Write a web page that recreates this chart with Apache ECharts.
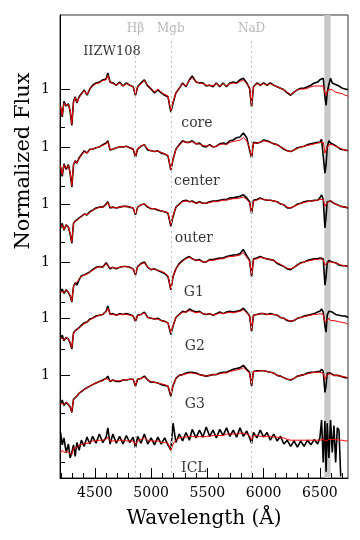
<!DOCTYPE html>
<html>
<head>
<meta charset="utf-8">
<title>IIZW108</title>
<script src="https://cdn.jsdelivr.net/npm/echarts@6/dist/echarts.min.js"></script>
<style>
  html,body{margin:0;padding:0;background:#fff;}
  #main{width:360px;height:540px;}
</style>
</head>
<body>
<div id="main"></div>
<script>
  // 波长 (Å)
  var wave=[4195,4210,4225,4245,4265,4280,4295,4310,4325,4340,
    4360,4380,4405,4430,4455,4480,4510,4540,4570,4600,
    4615,4635,4660,4690,4720,4750,4780,4810,4840,4861,
    4880,4910,4940,4970,5000,5030,5060,5090,5120,5150,
    5175,5195,5220,5250,5280,5310,5340,5365,5400,5430,
    5460,5490,5520,5550,5580,5610,5640,5670,5700,5730,
    5760,5790,5820,5850,5875,5893,5910,5940,5970,6000,
    6030,6060,6090,6120,6150,6180,6210,6240,6270,6300,
    6330,6360,6390,6420,6450,6480,6500,6515,6530,6545,
    6555,6565,6580,6595,6610,6625,6640,6655,6670,6685,
    6700,6725,6750];

  // 观测谱 (黑) 与模型谱 (红), 归一化流量
  var coreObs=[0.77,0.64,0.84,0.78,0.81,0.71,0.53,0.84,0.90,0.82,
    0.90,0.94,0.99,0.92,1.00,1.05,1.08,1.09,1.12,1.13,
    1.21,1.09,1.08,1.05,1.09,1.04,1.08,1.05,1.03,0.92,
    1.03,1.08,1.12,1.04,1.00,0.95,0.99,0.95,0.92,0.90,
    0.70,0.82,0.95,1.01,1.08,1.03,1.12,1.17,1.09,1.08,
    1.08,1.04,1.05,1.03,1.08,1.03,1.08,1.03,1.08,1.09,
    1.08,1.12,1.14,1.08,1.01,0.77,1.03,1.08,1.05,1.08,
    1.05,1.08,1.05,1.03,1.01,0.99,0.95,0.92,0.96,0.99,
    1.01,1.01,1.03,1.05,1.08,1.09,1.12,1.10,1.14,0.90,
    0.79,0.95,1.06,1.14,1.08,1.08,1.06,1.05,1.04,1.03,
    1.01,1.00,0.99];
  var coreMod=[0.78,0.66,0.82,0.79,0.80,0.72,0.55,0.83,0.89,0.83,
    0.89,0.93,0.98,0.93,1.00,1.04,1.07,1.08,1.11,1.12,
    1.18,1.09,1.07,1.05,1.08,1.04,1.07,1.05,1.03,0.93,
    1.03,1.07,1.11,1.05,1.01,0.96,1.00,0.96,0.93,0.91,
    0.72,0.83,0.95,1.01,1.07,1.04,1.11,1.15,1.09,1.08,
    1.07,1.05,1.05,1.04,1.07,1.04,1.07,1.04,1.07,1.08,
    1.07,1.10,1.12,1.07,1.02,0.79,1.03,1.07,1.05,1.07,
    1.05,1.07,1.05,1.03,1.01,0.99,0.96,0.93,0.96,0.99,
    1.00,1.00,1.01,1.03,1.04,1.04,1.04,1.04,1.04,0.95,
    0.92,0.97,1.00,1.00,0.99,0.97,0.96,0.96,0.95,0.94,
    0.94,0.92,0.91];
  var centerObs=[0.74,0.62,0.78,0.71,0.77,0.66,0.48,0.77,0.82,0.79,
    0.86,0.90,0.95,0.92,0.97,0.97,0.99,1.00,1.03,1.05,
    1.08,0.96,0.97,0.99,1.00,1.00,1.01,0.99,0.97,0.87,
    0.97,1.01,1.03,0.96,0.95,0.94,0.95,0.92,0.91,0.88,
    0.70,0.84,0.97,1.03,1.08,1.06,1.06,1.08,1.04,1.05,
    1.01,1.00,1.03,1.00,1.01,1.04,1.05,1.04,1.08,1.09,
    1.12,1.13,1.18,1.12,0.96,0.86,1.06,1.05,1.06,1.09,
    1.08,1.06,1.04,1.03,1.00,0.97,0.95,0.94,0.96,0.99,
    1.00,1.01,1.03,1.04,1.05,1.06,1.06,1.10,1.08,0.66,
    0.77,1.00,1.08,1.05,1.04,1.03,1.01,1.00,0.99,0.97,
    0.97,0.96,0.95];
  var centerMod=[0.75,0.64,0.77,0.72,0.76,0.67,0.50,0.77,0.82,0.79,
    0.85,0.89,0.94,0.92,0.97,0.97,0.99,1.00,1.02,1.04,
    1.07,0.97,0.97,0.99,1.00,1.00,1.01,0.99,0.98,0.88,
    0.98,1.01,1.03,0.97,0.95,0.94,0.95,0.93,0.91,0.89,
    0.71,0.84,0.97,1.02,1.07,1.06,1.06,1.07,1.04,1.04,
    1.02,1.01,1.02,1.00,1.01,1.03,1.04,1.03,1.06,1.07,
    1.08,1.09,1.12,1.08,0.98,0.87,1.05,1.05,1.06,1.08,
    1.07,1.06,1.04,1.03,1.00,0.98,0.95,0.94,0.96,0.98,
    1.00,1.01,1.02,1.03,1.04,1.05,1.06,1.06,1.06,0.92,
    0.90,0.99,1.03,1.04,1.03,1.02,1.01,1.00,0.99,0.98,
    0.97,0.96,0.95];
  var outerObs=[0.69,0.75,0.66,0.73,0.70,0.61,0.49,0.75,0.78,0.77,
    0.82,0.84,0.87,0.86,0.90,0.92,0.95,0.96,0.96,1.00,
    1.03,0.95,0.96,0.95,0.96,0.97,0.97,0.96,0.95,0.86,
    0.96,0.99,1.00,0.96,0.94,0.94,0.92,0.91,0.90,0.88,
    0.71,0.84,0.96,1.00,1.04,1.05,1.03,1.04,1.01,1.03,
    1.01,1.01,1.03,1.04,1.04,1.05,1.06,1.06,1.08,1.08,
    1.09,1.10,1.12,1.08,1.03,0.88,1.05,1.06,1.08,1.06,
    1.05,1.05,1.04,1.03,1.00,0.99,0.95,0.95,0.97,1.00,
    1.01,1.03,1.04,1.04,1.05,1.05,1.08,1.12,1.06,0.69,
    0.84,1.03,1.05,1.04,1.03,1.01,1.00,0.99,0.99,0.97,
    0.97,0.96,0.95];
  var outerMod=[0.70,0.73,0.67,0.73,0.70,0.62,0.51,0.75,0.78,0.77,
    0.81,0.84,0.87,0.86,0.89,0.92,0.94,0.96,0.96,0.99,
    1.02,0.96,0.96,0.95,0.96,0.97,0.97,0.96,0.95,0.87,
    0.96,0.99,1.00,0.97,0.94,0.94,0.93,0.91,0.90,0.89,
    0.73,0.85,0.96,1.00,1.03,1.04,1.03,1.03,1.01,1.02,
    1.01,1.01,1.02,1.03,1.03,1.04,1.05,1.05,1.06,1.07,
    1.07,1.08,1.09,1.06,1.02,0.89,1.04,1.05,1.07,1.06,
    1.05,1.05,1.04,1.03,1.00,0.99,0.96,0.95,0.97,0.99,
    1.01,1.02,1.03,1.04,1.04,1.05,1.06,1.07,1.06,0.97,
    0.96,1.02,1.04,1.04,1.03,1.01,1.00,0.99,0.99,0.97,
    0.97,0.96,0.95];
  var g1Obs=[0.62,0.66,0.60,0.65,0.61,0.57,0.49,0.69,0.74,0.71,
    0.78,0.83,0.84,0.86,0.88,0.91,0.94,0.95,0.94,1.00,
    1.01,0.92,0.94,0.92,0.94,0.95,0.95,0.94,0.92,0.84,
    0.95,0.99,1.01,0.94,0.91,0.92,0.90,0.88,0.86,0.82,
    0.65,0.82,0.92,0.99,1.03,1.06,1.08,1.05,1.03,1.04,
    1.01,1.01,1.04,1.04,1.05,1.06,1.06,1.08,1.09,1.10,
    1.10,1.12,1.17,1.09,1.03,0.82,1.05,1.06,1.08,1.06,
    1.05,1.04,1.03,0.99,0.97,0.95,0.92,0.91,0.94,0.97,
    1.00,1.01,1.03,1.04,1.05,1.05,1.06,1.08,1.05,0.71,
    0.82,1.00,1.03,1.01,1.01,1.00,1.00,0.99,0.97,0.97,
    0.96,0.96,0.95];
  var g1Mod=[0.63,0.64,0.61,0.65,0.62,0.58,0.50,0.69,0.73,0.71,
    0.78,0.82,0.84,0.85,0.88,0.90,0.93,0.95,0.94,0.99,
    1.00,0.93,0.94,0.93,0.94,0.95,0.95,0.94,0.92,0.85,
    0.95,0.98,1.00,0.94,0.91,0.92,0.90,0.89,0.87,0.83,
    0.66,0.82,0.92,0.98,1.02,1.05,1.07,1.05,1.03,1.03,
    1.01,1.01,1.03,1.03,1.04,1.05,1.05,1.07,1.08,1.08,
    1.09,1.10,1.13,1.07,1.02,0.84,1.04,1.05,1.07,1.06,
    1.05,1.04,1.03,1.00,0.98,0.95,0.93,0.92,0.94,0.97,
    0.99,1.01,1.02,1.03,1.04,1.04,1.05,1.05,1.04,0.97,
    0.96,1.00,1.02,1.01,1.01,1.00,1.00,0.99,0.97,0.97,
    0.96,0.96,0.95];
  var g2Obs=[0.74,0.78,0.71,0.75,0.73,0.68,0.60,0.81,0.84,0.83,
    0.88,0.91,0.94,0.95,0.99,1.00,1.03,1.04,1.05,1.09,
    1.16,1.05,1.06,1.04,1.06,1.05,1.06,1.05,1.03,0.96,
    1.04,1.05,1.08,1.01,1.00,0.99,1.00,0.97,0.96,0.94,
    0.79,0.90,1.01,1.05,1.09,1.08,1.12,1.10,1.08,1.09,
    1.06,1.05,1.06,1.04,1.06,1.08,1.06,1.08,1.09,1.08,
    1.09,1.10,1.13,1.08,1.03,0.83,1.04,1.05,1.06,1.06,
    1.05,1.06,1.05,1.04,1.01,1.00,0.97,0.96,0.97,1.00,
    1.01,1.03,1.04,1.05,1.06,1.08,1.09,1.12,1.08,0.90,
    0.82,1.04,1.09,1.10,1.08,1.06,1.05,1.05,1.04,1.04,
    1.03,1.03,1.01];
  var g2Mod=[0.75,0.76,0.72,0.75,0.73,0.69,0.62,0.80,0.84,0.83,
    0.87,0.90,0.93,0.95,0.98,1.00,1.02,1.04,1.05,1.08,
    1.13,1.05,1.05,1.04,1.05,1.05,1.05,1.04,1.03,0.97,
    1.03,1.05,1.07,1.01,1.00,0.99,0.99,0.97,0.96,0.94,
    0.81,0.90,1.01,1.05,1.08,1.08,1.10,1.09,1.07,1.08,
    1.06,1.05,1.06,1.04,1.05,1.07,1.06,1.07,1.08,1.07,
    1.08,1.09,1.11,1.07,1.03,0.85,1.04,1.05,1.06,1.06,
    1.05,1.05,1.05,1.04,1.01,1.00,0.98,0.96,0.97,1.00,
    1.01,1.02,1.03,1.04,1.05,1.05,1.06,1.06,1.05,0.95,
    0.94,0.97,1.00,0.97,0.97,0.97,0.96,0.96,0.95,0.95,
    0.94,0.94,0.92];
  var g3Obs=[0.64,0.68,0.61,0.65,0.62,0.59,0.52,0.69,0.71,0.73,
    0.77,0.79,0.82,0.84,0.86,0.88,0.90,0.92,0.94,0.96,
    0.99,0.92,0.94,0.92,0.92,0.94,0.94,0.95,0.95,0.86,
    0.95,0.96,0.99,0.94,0.91,0.91,0.90,0.88,0.87,0.86,
    0.73,0.87,0.96,1.00,1.01,1.03,1.04,1.04,1.03,1.01,
    1.00,0.99,1.00,1.01,1.01,1.03,1.04,1.04,1.06,1.08,
    1.09,1.10,1.13,1.08,1.04,0.86,1.05,1.06,1.06,1.06,
    1.05,1.04,1.03,1.00,0.99,0.97,0.95,0.94,0.96,0.99,
    1.00,1.01,1.03,1.04,1.04,1.05,1.05,1.08,1.05,0.78,
    0.87,1.03,1.04,1.03,1.01,1.00,1.00,1.00,0.99,0.99,
    0.99,0.97,0.97];
  var g3Mod=[0.64,0.66,0.62,0.65,0.63,0.59,0.53,0.69,0.71,0.73,
    0.77,0.79,0.82,0.84,0.86,0.88,0.90,0.92,0.93,0.96,
    0.98,0.93,0.94,0.93,0.93,0.94,0.94,0.95,0.95,0.87,
    0.95,0.96,0.98,0.94,0.92,0.91,0.90,0.89,0.88,0.86,
    0.75,0.87,0.96,1.00,1.01,1.02,1.03,1.03,1.02,1.01,
    1.00,0.99,1.00,1.01,1.01,1.02,1.03,1.03,1.05,1.06,
    1.07,1.08,1.10,1.06,1.03,0.88,1.05,1.05,1.06,1.06,
    1.05,1.04,1.03,1.00,0.99,0.97,0.95,0.94,0.96,0.99,
    1.00,1.01,1.02,1.03,1.04,1.04,1.04,1.04,1.03,0.95,
    0.96,1.01,1.02,1.02,1.01,1.00,1.00,1.00,0.99,0.99,
    0.99,0.98,0.97];
  var iclObs=[1.10,0.94,1.03,0.84,0.95,0.77,0.84,0.94,0.79,0.97,
    0.87,1.00,0.92,1.04,0.95,1.05,0.96,1.08,0.97,1.04,
    1.16,0.95,1.08,0.96,1.05,0.95,1.06,0.97,1.04,0.90,
    1.05,0.96,1.08,0.95,1.03,0.94,1.04,0.95,1.03,0.94,
    0.87,1.22,0.97,1.08,0.99,1.10,1.00,1.14,1.03,1.13,
    1.04,1.17,1.05,1.13,1.03,1.14,1.06,1.16,1.05,1.13,
    1.04,1.16,1.05,1.12,1.03,0.96,1.10,1.03,1.13,1.04,
    1.10,1.00,1.08,0.99,1.05,0.95,1.00,0.92,0.99,0.91,
    0.99,0.92,1.00,0.94,1.01,0.95,1.03,1.26,0.71,1.25,
    0.59,1.22,0.77,1.26,0.84,1.19,0.71,1.16,1.13,0.53,
    null,null,null];
  var iclMod=[0.84,0.87,0.84,0.86,0.84,0.83,0.81,0.90,0.91,0.90,
    0.94,0.94,0.96,0.96,0.97,0.99,0.99,1.00,1.00,1.01,
    1.04,0.99,0.99,0.99,1.00,1.00,0.99,0.99,0.99,0.94,
    0.99,1.01,1.03,1.00,0.99,0.99,0.99,0.97,0.97,0.96,
    0.87,0.95,1.00,1.03,1.04,1.04,1.05,1.05,1.04,1.05,
    1.04,1.05,1.05,1.06,1.06,1.06,1.06,1.08,1.08,1.08,
    1.08,1.09,1.09,1.08,1.06,1.00,1.06,1.06,1.05,1.05,
    1.05,1.05,1.04,1.04,1.03,1.03,1.01,1.00,1.00,1.00,
    1.00,1.00,1.00,1.00,1.00,1.00,1.00,1.00,1.01,0.99,
    0.99,1.00,1.01,1.01,1.01,1.01,1.01,1.00,1.00,1.00,
    1.00,0.99,0.99];

  var names=["core","center","outer","G1","G2","G3","ICL"];
  // 每条谱线的竖直平移量
  var offsets=[4.04,3.29,2.55,1.79,1.07,0.33,-0.51];
  var obsList=[coreObs,centerObs,outerObs,g1Obs,g2Obs,g3Obs,iclObs];
  var modList=[coreMod,centerMod,outerMod,g1Mod,g2Mod,g3Mod,iclMod];

  // 刻度
  var tickMajorX=[4500,5000,5500,6000,6500];
  var tickMinorX=[4200,4300,4400,4500,4600,4700,4800,4900,5000,5100,5200,5300,5400,
    5500,5600,5700,5800,5900,6000,6100,6200,6300,6400,6500,6600,6700];
  var tickMinorY=[4.55,3.78,3.06,2.28,1.67,0.84,0.21];

  // 谱线标识
  var lineWave=[4861,5175,5893];
  var lineName=["H\u03b2","Mgb","NaD"];
  var maskBand=[6540,6595];

  // 文字标注位置 [波长, 纵坐标]
  var textList=["IIZW108","core","center","outer","G1","G2","G3","ICL"];
  var textPos=[[4652,5.52],[5407,4.60],[5407,3.85],[5380,3.10],[5380,2.40],[5389,1.70],[5389,0.96],[5380,0.13]];
  var textSize=[13,14,14,14,14,14,14,14];

  var FONT="DejaVu Serif";

  var toPairs=function(flux,off){
    var arr=[];
    flux.forEach(function(f,i){
      if(f!=null){
        arr.push([wave[i],+(f+off).toFixed(3)]);
      }
    });
    return arr;
  };

  var majorY=offsets.slice(0,6).map(function(o){return +(o+1).toFixed(3);});

  var series=[];
  // 灰色遮挡区与虚线
  series.push({
    type:'line',
    data:[],
    z:1,
    silent:true,
    markArea:{
      silent:true,
      itemStyle:{color:'#c8c8c8'},
      data:[[{xAxis:maskBand[0]},{xAxis:maskBand[1]}]]
    },
    markLine:{
      silent:true,
      symbol:['none','none'],
      lineStyle:{color:'#c4c4c4',type:[2,3],width:1},
      label:{show:true,position:'end',formatter:'{b}',color:'#b8b8b8',fontFamily:FONT,fontSize:12,distance:3},
      data:lineWave.map(function(w,i){
        return [{name:lineName[i],coord:[w,0]},{coord:[w,5.7]}];
      })
    }
  });
  obsList.forEach(function(flux,i){
    series.push({
      name:names[i]+' obs',
      type:'line',
      data:toPairs(flux,offsets[i]),
      showSymbol:false,
      symbol:'none',
      z:2,
      lineStyle:{color:'#000',width:1.6},
      silent:true
    });
  });
  modList.forEach(function(flux,i){
    series.push({
      name:names[i]+' model',
      type:'line',
      data:toPairs(flux,offsets[i]),
      showSymbol:false,
      symbol:'none',
      z:3,
      lineStyle:{color:'#ff0000',width:1},
      silent:true
    });
  });
  series.push({
    type:'scatter',
    z:4,
    symbolSize:1,
    itemStyle:{color:'rgba(0,0,0,0)'},
    silent:true,
    data:textPos.map(function(p,i){
      return {value:[p[0],p[1]],name:textList[i],label:{fontSize:textSize[i]}};
    }),
    label:{
      show:true,
      position:'inside',
      formatter:'{b}',
      color:'#000',
      fontFamily:FONT,
      fontSize:14
    }
  });

  var chart=echarts.init(document.getElementById("main"),null,{renderer:'canvas'});
  chart.setOption({
    animation:false,
    backgroundColor:'#fff',
    grid:{left:60,right:12,top:15,bottom:62,show:true,borderColor:'#333',borderWidth:1},
    xAxis:[
      {
        type:'value',min:4190,max:6750,position:'bottom',
        name:'Wavelength (\u00c5)',nameLocation:'middle',nameGap:31,
        nameTextStyle:{fontFamily:FONT,fontSize:20,color:'#000'},
        axisLine:{show:true,lineStyle:{color:'#000'}},
        axisTick:{show:true,inside:true,length:10,customValues:tickMajorX,lineStyle:{color:'#000'}},
        axisLabel:{show:true,customValues:tickMajorX,margin:8,fontFamily:FONT,fontSize:14,color:'#000',
          formatter:function(v){return String(v);}},
        splitLine:{show:false}
      },
      {
        type:'value',min:4190,max:6750,position:'bottom',
        axisLine:{show:false},
        axisTick:{show:true,inside:true,length:5,customValues:tickMinorX,lineStyle:{color:'#000'}},
        axisLabel:{show:false},
        splitLine:{show:false}
      }
    ],
    yAxis:[
      {
        type:'value',min:0,max:6,position:'left',
        axisLine:{show:true,lineStyle:{color:'#000'}},
        axisTick:{show:true,inside:true,length:10,customValues:majorY,lineStyle:{color:'#000'}},
        axisLabel:{show:true,customValues:majorY,margin:10,formatter:function(){return '1';},fontFamily:FONT,fontSize:14,color:'#000'},
        splitLine:{show:false}
      },
      {
        type:'value',min:0,max:6,position:'left',
        axisLine:{show:false},
        axisTick:{show:true,inside:true,length:5,customValues:tickMinorY,lineStyle:{color:'#000'}},
        axisLabel:{show:false},
        splitLine:{show:false}
      }
    ],
    graphic:[
      {
        type:'text',
        x:24,y:161,
        rotation:Math.PI/2,
        style:{text:'Normalized Flux',fontFamily:FONT,fontSize:21,fill:'#000',align:'center',verticalAlign:'middle'}
      }
    ],
    series:series
  });
</script>
</body>
</html>
